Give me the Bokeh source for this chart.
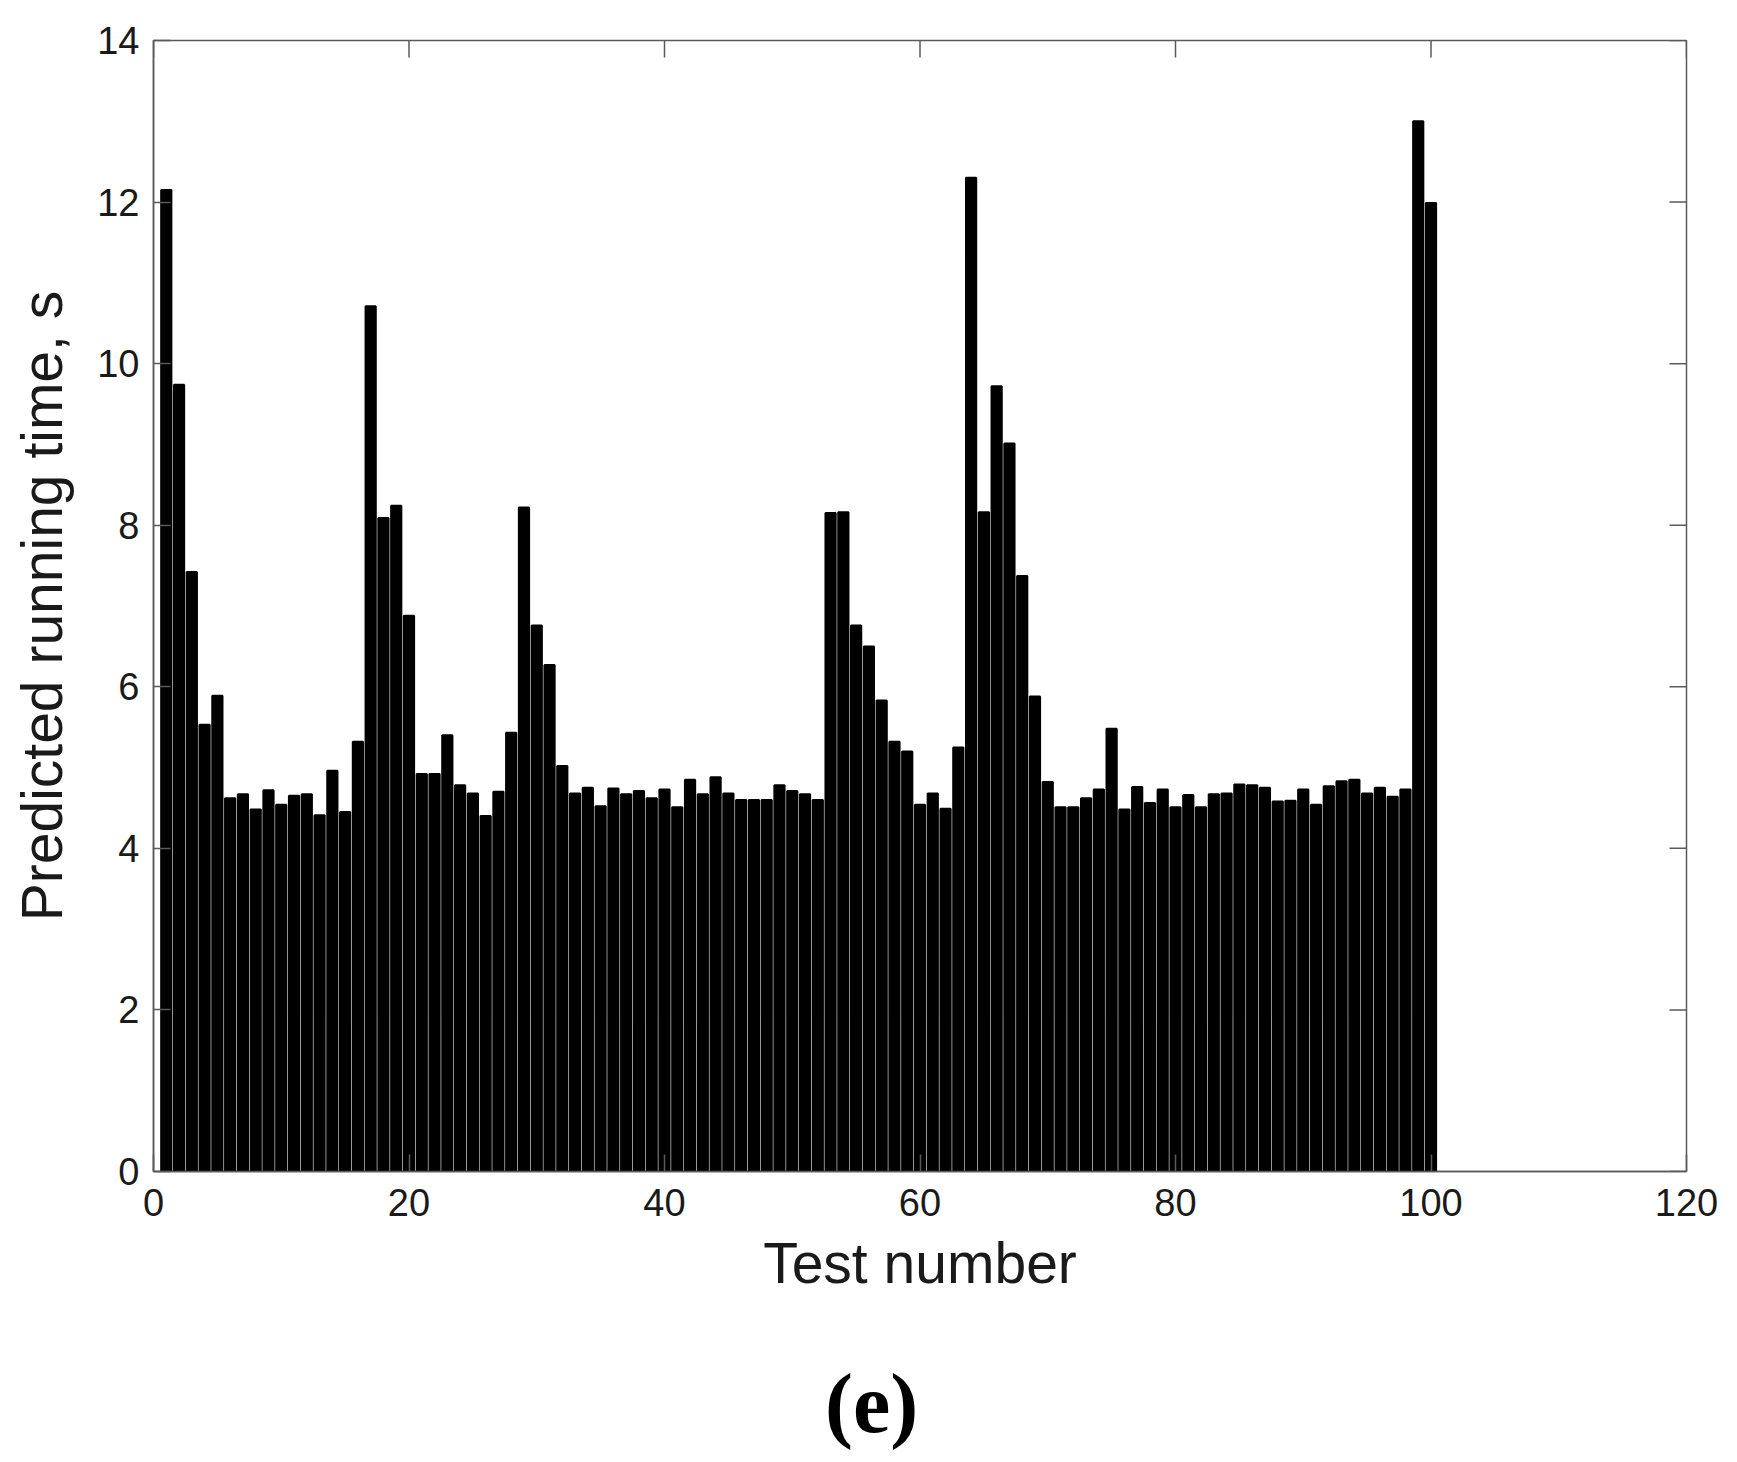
import math
from bokeh.plotting import figure
from bokeh.layouts import column
from bokeh.models import Range1d, FixedTicker, Div
from bokeh.embed import file_html
from bokeh.resources import INLINE

# Data
test_numbers = list(range(1, 101))
running_time = [
    12.15, 9.74, 7.42, 5.53, 5.89, 4.62, 4.67, 4.48, 4.72, 4.54,
    4.65, 4.67, 4.41, 4.96, 4.45, 5.32, 10.71, 8.09, 8.24, 6.88,
    4.92, 4.92, 5.40, 4.78, 4.68, 4.40, 4.70, 5.43, 8.22, 6.76,
    6.27, 5.02, 4.68, 4.75, 4.52, 4.74, 4.67, 4.71, 4.62, 4.73,
    4.51, 4.85, 4.67, 4.88, 4.68, 4.60, 4.60, 4.60, 4.78, 4.71,
    4.67, 4.60, 8.15, 8.16, 6.76, 6.50, 5.83, 5.32, 5.20, 4.54,
    4.68, 4.49, 5.25, 12.30, 8.16, 9.72, 9.01, 7.37, 5.88, 4.82,
    4.51, 4.51, 4.62, 4.73, 5.48, 4.48, 4.76, 4.56, 4.73, 4.51,
    4.66, 4.51, 4.67, 4.68, 4.79, 4.78, 4.75, 4.58, 4.59, 4.73,
    4.54, 4.77, 4.83, 4.85, 4.68, 4.75, 4.64, 4.73, 13.00, 11.99,
]
x_ticks = [0, 20, 40, 60, 80, 100, 120]
y_ticks = [0, 2, 4, 6, 8, 10, 12, 14]
x_label = "Test number"
y_label = "Predicted running time, s"
panel_label = "(e)"

AXIS_COLOR = "#5a5a5a"
TEXT_COLOR = "#1a1a1a"
FONT = "Liberation Sans"
TICK_LEN = 17

x_min, x_max = x_ticks[0], x_ticks[-1]
y_min, y_max = y_ticks[0], y_ticks[-1]

W = 1721
H_MAIN = 1311
H_CAPTION = 1446 - H_MAIN

p = figure(
    width=W, height=H_MAIN,
    output_backend="svg", toolbar_location=None,
    x_range=Range1d(x_min, x_max), y_range=Range1d(y_min, y_max),
    min_border_left=153, min_border_right=35,
    min_border_top=40, min_border_bottom=140,
    x_axis_label=x_label, y_axis_label=y_label,
)
p.background_fill_color = "white"
p.border_fill_color = "white"
p.outline_line_color = AXIS_COLOR
p.outline_line_width = 1.5
p.xgrid.visible = False
p.ygrid.visible = False

p.vbar(x=test_numbers, top=running_time, width=0.8,
       fill_color="black", line_color="black", line_width=2)

def style_axis(ax, ticks):
    ax.ticker = FixedTicker(ticks=ticks)
    ax.axis_line_color = AXIS_COLOR
    ax.axis_line_width = 1.5
    ax.major_tick_line_color = AXIS_COLOR
    ax.major_tick_line_width = 1.5
    ax.major_tick_in = TICK_LEN
    ax.major_tick_out = 0
    ax.minor_tick_line_color = None
    ax.major_label_text_font = FONT
    ax.major_label_text_color = TEXT_COLOR
    ax.major_label_text_font_size = "38px"
    ax.axis_label_text_font = FONT
    ax.axis_label_text_font_style = "normal"
    ax.axis_label_text_font_size = "57px"
    ax.axis_label_text_color = TEXT_COLOR

style_axis(p.xaxis[0], x_ticks)
style_axis(p.yaxis[0], y_ticks)
p.xaxis[0].major_label_standoff = 17
p.xaxis[0].axis_label_standoff = 12
p.yaxis[0].major_label_standoff = 14
p.yaxis[0].axis_label_standoff = 20

# inward ticks on the top and right edges of the box (MATLAB style)
p.ray(x=x_ticks, y=[y_max] * len(x_ticks), length=TICK_LEN, length_units="screen",
      angle=-math.pi / 2, line_color=AXIS_COLOR, line_width=1.5)
p.ray(x=[x_max] * len(y_ticks), y=y_ticks, length=TICK_LEN, length_units="screen",
      angle=math.pi, line_color=AXIS_COLOR, line_width=1.5)

# caption "(e)" below the chart
caption = Div(
    text=panel_label, width=W, height=H_CAPTION,
    styles={
        "font-family": "'Liberation Serif', 'Times New Roman', serif",
        "font-weight": "bold",
        "font-size": "84px",
        "line-height": "84px",
        "color": "black",
        "padding-left": "820px",
        "padding-top": "46px",
        "box-sizing": "border-box",
        "text-align": "left",
        "background": "white",
    },
)

layout = column(p, caption, spacing=0)
open("out.html", "w").write(file_html(layout, INLINE))
